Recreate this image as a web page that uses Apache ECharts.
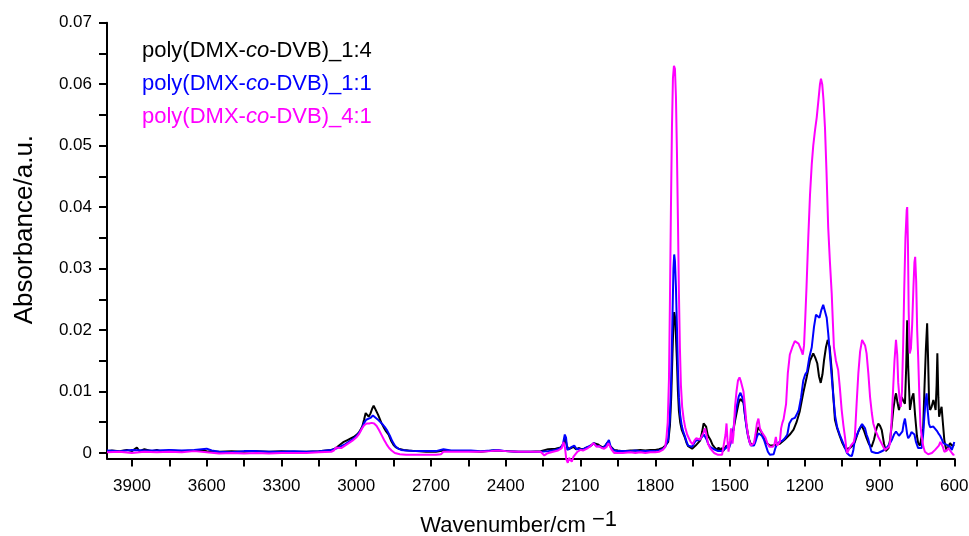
<!DOCTYPE html>
<html>
<head>
<meta charset="utf-8">
<script src="https://cdn.jsdelivr.net/npm/echarts@6/dist/echarts.min.js"></script>
<style>html,body{margin:0;padding:0;background:#fff;}#chart{width:969px;height:536px;}</style>
</head>
<body>
<div id="chart"></div>
<script>
// ---- data: [wavenumber (cm-1), absorbance (a.u.)] ----
const seriesNames = ['poly(DMX-co-DVB)_1:4', 'poly(DMX-co-DVB)_1:1', 'poly(DMX-co-DVB)_4:1'];
const seriesColors = ['#000000', '#0000ff', '#ff00ff'];
const xTickLabels = [600, 900, 1200, 1500, 1800, 2100, 2400, 2700, 3000, 3300, 3600, 3900];
const xTicks = [600,750,900,1050,1200,1350,1500,1650,1800,1950,2100,2250,2400,2550,2700,2850,3000,3150,3300,3450,3600,3750,3900];
const yTickLabels = [0, 0.01, 0.02, 0.03, 0.04, 0.05, 0.06, 0.07];
const yTicks = [0,0.005,0.01,0.015,0.02,0.025,0.03,0.035,0.04,0.045,0.05,0.055,0.06,0.065,0.07];

const black = [
[4000,0.0003],[3980,0.0004],[3950,0.0003],[3920,0.0005],[3900,0.0003],[3880,0.0009],[3870,0.0003],[3850,0.0006],[3820,0.0003],[3800,0.0005],[3780,0.0002],[3750,0.0004],[3700,0.0003],[3650,0.0004],[3620,0.0005],[3600,0.0003],[3550,0.0002],[3500,0.0003],[3450,0.0002],[3400,0.0003],[3350,0.0002],[3300,0.0003],[3250,0.0002],[3200,0.0002],[3150,0.0003],[3100,0.0005],
[3090,0.0006],[3075,0.0010],[3060,0.0015],[3050,0.0018],[3035,0.0021],[3020,0.0024],[3010,0.0026],[3000,0.0029],[2990,0.0033],[2982,0.0038],[2975,0.0044],[2968,0.0055],[2962,0.0065],[2955,0.0062],[2950,0.0059],[2943,0.0064],[2936,0.0072],[2930,0.0077],[2922,0.0074],[2912,0.0062],[2905,0.0055],[2899,0.0049],[2890,0.0042],[2880,0.0035],[2870,0.0030],[2860,0.0020],[2850,0.0013],[2840,0.0009],[2830,0.0007],[2810,0.0005],[2790,0.0004],[2760,0.0003],[2720,0.0002],[2680,0.0002],
[2650,0.0004],[2600,0.0003],[2550,0.0003],[2500,0.0002],[2450,0.0004],[2400,0.0003],[2350,0.0002],[2300,0.0002],[2260,0.0003],[2230,0.0006],[2200,0.0007],[2180,0.0009],[2168,0.0014],[2161,0.0024],[2155,0.0012],[2148,0.0006],[2138,0.0008],[2128,0.0010],[2118,0.0006],[2105,0.0008],[2095,0.0006],[2085,0.0007],[2075,0.0009],[2065,0.0010],[2055,0.0013],[2046,0.0016],[2038,0.0013],[2030,0.0014],[2020,0.0011],[2010,0.0009],[2000,0.0012],[1992,0.0017],[1986,0.0020],[1978,0.0010],[1965,0.0005],[1950,0.0004],[1930,0.0003],[1900,0.0004],[1880,0.0004],[1860,0.0005],[1840,0.0004],[1820,0.0005],[1800,0.0005],[1785,0.0006],[1770,0.0008],[1760,0.0012],
[1755,0.0010],[1748,0.0018],[1741,0.0045],[1736,0.0090],[1731,0.0160],[1727,0.0215],[1724,0.0229],[1721,0.0222],[1717,0.0190],[1713,0.0150],[1709,0.0100],[1705,0.0068],[1700,0.0050],[1694,0.0038],[1688,0.0032],[1681,0.0025],[1674,0.0016],[1668,0.0011],[1660,0.0008],[1652,0.0007],[1645,0.0009],[1638,0.0012],[1630,0.0014],[1620,0.0020],[1612,0.0034],[1606,0.0048],[1601,0.0051],[1596,0.0043],[1590,0.0030],[1584,0.0025],[1578,0.0021],[1570,0.0013],[1562,0.0009],[1556,0.0012],[1551,0.0005],[1546,0.0009],[1540,0.0004],[1534,0.0008],[1528,0.0003],[1522,0.0005],[1516,0.0011],[1510,0.0014],[1504,0.0013],[1498,0.0018],[1492,0.0030],[1486,0.0038],[1480,0.0052],[1472,0.0068],[1465,0.0082],[1458,0.0088],[1452,0.0090],[1446,0.0082],[1440,0.0062],[1434,0.0045],[1428,0.0030],[1422,0.0020],[1416,0.0014],[1410,0.0012],[1404,0.0014],[1398,0.0022],[1392,0.0034],[1386,0.0042],[1380,0.0038],[1374,0.0034],[1366,0.0026],[1358,0.0018],[1350,0.0015],[1340,0.0012],[1330,0.0012],[1320,0.0013],[1310,0.0014],[1300,0.0015],[1280,0.0022],[1260,0.0030],[1245,0.0038],[1233,0.0050],[1220,0.0068],[1206,0.0098],[1192,0.0124],[1179,0.0150],[1166,0.0162],[1158,0.0155],[1150,0.0146],[1143,0.0125],[1136,0.0114],[1129,0.0128],[1123,0.0150],[1115,0.0172],[1108,0.0184],[1100,0.0172],[1092,0.0135],[1085,0.0090],[1079,0.0054],[1070,0.0040],[1059,0.0027],[1049,0.0016],[1039,0.0008],[1028,0.0007],[1019,0.0008],[1008,0.0012],
[999,0.0018],[985,0.0035],[972,0.0045],[962,0.0036],[952,0.0024],[942,0.0014],[932,0.0010],[922,0.0022],[912,0.0040],[905,0.0048],[898,0.0044],[891,0.0037],[882,0.0015],[875,0.0003],[871,0.0001],[864,0.0008],
[858,0.0021],[851,0.0045],[845,0.0070],[838,0.0090],[834,0.0097],[828,0.0082],[822,0.0070],[816,0.0082],[811,0.0091],[805,0.0085],[798,0.0080],[793,0.0140],[789,0.0216],[785,0.0140],[778,0.0070],[770,0.0090],[764,0.0097],[757,0.0060],[750,0.0028],[745,0.0016],[738,0.0012],[731,0.0010],[725,0.0040],[720,0.0102],[714,0.0170],[709,0.0211],[705,0.0150],[701,0.0080],[697,0.0070],[691,0.0075],[684,0.0086],[679,0.0078],[675,0.0070],[671,0.0110],[668,0.0162],[664,0.0090],[661,0.0059],[656,0.0068],[651,0.0075],[646,0.0050],[640,0.0021],[635,0.0010],[631,0.0005],[624,0.0010],[617,0.0016],[610,0.0012],[604,0.0011],[600,0.0013]
];

const blue = [
[4000,0.0004],[3950,0.0003],[3900,0.0005],[3850,0.0004],[3800,0.0004],[3750,0.0005],[3700,0.0004],[3650,0.0005],[3600,0.0007],[3580,0.0004],[3550,0.0002],[3500,0.0001],[3450,0.0003],[3400,0.0003],[3350,0.0002],[3300,0.0002],[3250,0.0003],[3200,0.0002],[3150,0.0003],[3100,0.0005],
[3090,0.0006],[3075,0.0008],[3060,0.0011],[3045,0.0014],[3030,0.0018],[3015,0.0022],[3000,0.0027],[2988,0.0033],[2978,0.0040],[2968,0.0049],[2960,0.0054],[2952,0.0054],[2943,0.0057],[2933,0.0061],[2925,0.0060],[2915,0.0055],[2905,0.0051],[2895,0.0047],[2885,0.0042],[2875,0.0036],[2865,0.0028],[2855,0.0019],[2845,0.0012],[2835,0.0008],[2820,0.0005],[2800,0.0004],[2760,0.0003],[2720,0.0003],[2680,0.0003],
[2650,0.0006],[2620,0.0004],[2580,0.0004],[2540,0.0004],[2500,0.0003],[2460,0.0004],[2430,0.0005],[2400,0.0003],[2350,0.0002],[2300,0.0002],[2260,0.0002],[2230,0.0003],[2200,0.0005],[2180,0.0008],[2170,0.0015],[2163,0.0030],[2158,0.0025],[2153,0.0005],[2145,0.0004],[2135,0.0010],[2125,0.0012],[2115,0.0006],[2105,0.0007],[2095,0.0005],[2085,0.0007],[2075,0.0009],[2065,0.0011],[2055,0.0013],[2046,0.0016],[2038,0.0012],[2030,0.0014],[2020,0.0010],[2010,0.0008],[2000,0.0012],[1992,0.0017],[1986,0.0021],[1978,0.0009],[1965,0.0004],[1950,0.0003],[1930,0.0003],[1900,0.0003],[1880,0.0004],[1860,0.0003],[1840,0.0003],[1820,0.0003],[1800,0.0003],[1785,0.0004],[1770,0.0006],[1760,0.0010],
[1755,0.0012],[1748,0.0022],[1741,0.0060],[1736,0.0120],[1731,0.0220],[1727,0.0300],[1724,0.0323],[1721,0.0312],[1717,0.0270],[1713,0.0205],[1709,0.0135],[1705,0.0090],[1700,0.0062],[1694,0.0045],[1688,0.0035],[1681,0.0027],[1674,0.0018],[1668,0.0012],[1660,0.0010],[1652,0.0010],[1645,0.0012],[1638,0.0020],[1630,0.0022],[1620,0.0022],[1612,0.0025],[1605,0.0030],[1600,0.0028],[1594,0.0022],[1588,0.0015],[1580,0.0010],[1572,0.0008],[1564,0.0006],[1556,0.0005],[1548,0.0003],[1540,0.0002],[1532,0.0003],[1524,0.0002],[1516,0.0008],[1510,0.0012],[1504,0.0008],[1498,0.0015],[1492,0.0027],[1486,0.0040],[1480,0.0060],[1472,0.0078],[1465,0.0092],[1458,0.0098],[1452,0.0096],[1446,0.0085],[1440,0.0062],[1434,0.0042],[1428,0.0028],[1422,0.0018],[1416,0.0012],[1410,0.0010],[1404,0.0012],[1398,0.0018],[1392,0.0026],[1386,0.0032],[1380,0.0030],[1372,0.0028],[1364,0.0022],[1356,0.0012],[1348,0.0002],[1340,-0.0003],[1333,-0.0006],[1325,-0.0002],[1318,0.0008],[1310,0.0016],[1300,0.0018],[1290,0.0020],[1280,0.0024],[1270,0.0030],[1262,0.0048],[1252,0.0055],[1240,0.0057],[1233,0.0062],[1224,0.0070],[1215,0.0090],[1206,0.0118],[1198,0.0128],[1191,0.0132],[1182,0.0155],[1172,0.0172],[1163,0.0205],[1155,0.0225],[1148,0.0222],[1141,0.0220],[1134,0.0232],[1126,0.0241],[1120,0.0238],[1112,0.0220],[1106,0.0195],[1099,0.0160],[1092,0.0124],[1085,0.0090],[1078,0.0060],[1070,0.0042],[1060,0.0030],[1051,0.0021],[1040,0.0010],[1031,0.0000],[1020,-0.0004],[1011,-0.0005],[1005,0.0005],
[999,0.0022],[990,0.0030],[980,0.0040],[970,0.0047],[965,0.0049],[958,0.0040],[952,0.0030],[945,0.0022],[938,0.0010],[932,0.0002],[925,0.0000],[915,0.0000],[905,0.0000],[895,0.0002],[885,0.0004],[878,0.0005],[868,0.0010],
[858,0.0016],[851,0.0021],[842,0.0030],[834,0.0035],[828,0.0033],[822,0.0028],[815,0.0027],[808,0.0035],[803,0.0048],[798,0.0056],[794,0.0045],[789,0.0030],[785,0.0024],[778,0.0028],[772,0.0034],[765,0.0037],[760,0.0030],[754,0.0018],[745,0.0008],[738,0.0006],[731,0.0008],[725,0.0030],[720,0.0060],[715,0.0085],[711,0.0097],[707,0.0070],[702,0.0048],[697,0.0042],[691,0.0045],[684,0.0043],[677,0.0040],[670,0.0036],[664,0.0032],[657,0.0028],[650,0.0022],[644,0.0016],[637,0.0018],[630,0.0013],[624,0.0016],[617,0.0010],[610,0.0005],[604,0.0012],[600,0.0018]
];

const magenta = [
[4000,0.0001],[3950,0.0002],[3900,0.0000],[3850,0.0002],[3800,0.0001],[3750,0.0002],[3700,0.0001],[3650,0.0003],[3600,0.0001],[3550,-0.0001],[3500,0.0000],[3450,-0.0001],[3400,0.0000],[3350,-0.0001],[3300,0.0000],[3250,0.0000],[3200,0.0000],[3150,0.0001],[3100,0.0002],
[3090,0.0004],[3080,0.0009],[3070,0.0008],[3060,0.0008],[3045,0.0012],[3030,0.0016],[3015,0.0020],[3000,0.0025],[2988,0.0031],[2978,0.0039],[2968,0.0045],[2958,0.0048],[2948,0.0048],[2938,0.0049],[2928,0.0048],[2918,0.0044],[2908,0.0037],[2898,0.0029],[2888,0.0021],[2878,0.0014],[2868,0.0008],[2858,0.0004],[2845,0.0000],[2825,-0.0002],[2800,-0.0003],[2760,-0.0003],[2720,-0.0003],[2680,-0.0003],[2660,-0.0002],
[2650,0.0002],[2620,0.0002],[2580,0.0002],[2540,0.0002],[2500,0.0002],[2460,0.0003],[2430,0.0004],[2400,0.0003],[2350,0.0002],[2300,0.0002],[2260,0.0002],[2245,-0.0004],[2235,-0.0001],[2210,0.0002],[2190,0.0004],[2175,0.0008],[2168,0.0018],[2162,0.0008],[2157,-0.0010],[2151,-0.0016],[2146,-0.0008],[2141,-0.0006],[2135,-0.0014],[2128,-0.0006],[2120,-0.0003],[2112,0.0002],[2100,0.0005],[2090,0.0004],[2080,0.0006],[2070,0.0008],[2060,0.0011],[2048,0.0016],[2042,0.0013],[2035,0.0010],[2025,0.0011],[2015,0.0008],[2005,0.0007],[1995,0.0010],[1988,0.0016],[1983,0.0018],[1976,0.0006],[1965,0.0000],[1950,0.0000],[1930,0.0000],[1900,0.0001],[1880,0.0000],[1860,0.0001],[1840,0.0000],[1820,0.0001],[1800,0.0001],[1785,0.0002],[1770,0.0005],[1760,0.0010],
[1755,0.0025],[1750,0.0050],[1745,0.0120],[1741,0.0250],[1737,0.0400],[1733,0.0530],[1729,0.0610],[1725,0.0630],[1721,0.0625],[1717,0.0580],[1713,0.0490],[1709,0.0380],[1705,0.0260],[1701,0.0170],[1697,0.0110],[1692,0.0075],[1686,0.0055],[1680,0.0042],[1672,0.0030],[1665,0.0024],[1658,0.0018],[1650,0.0014],[1643,0.0020],[1636,0.0024],[1628,0.0022],[1620,0.0022],[1612,0.0025],[1605,0.0034],[1600,0.0040],[1595,0.0030],[1588,0.0015],[1580,0.0008],[1572,0.0004],[1564,0.0000],[1556,-0.0003],[1548,-0.0003],[1540,-0.0002],[1532,-0.0003],[1524,0.0000],[1518,0.0030],[1514,0.0048],[1510,0.0020],[1506,0.0002],[1500,0.0020],[1496,0.0040],[1490,0.0015],[1486,0.0030],[1480,0.0075],[1474,0.0100],[1468,0.0118],[1462,0.0123],[1456,0.0116],[1451,0.0113],[1446,0.0100],[1440,0.0075],[1434,0.0048],[1428,0.0030],[1422,0.0018],[1416,0.0012],[1410,0.0012],[1404,0.0016],[1398,0.0030],[1392,0.0048],[1386,0.0056],[1380,0.0040],[1374,0.0035],[1366,0.0032],[1358,0.0025],[1350,0.0016],[1342,0.0010],[1335,0.0008],[1328,0.0010],[1322,0.0014],[1316,0.0026],[1311,0.0012],[1305,0.0010],[1300,0.0018],[1295,0.0040],[1290,0.0049],[1285,0.0055],[1275,0.0080],[1268,0.0130],[1260,0.0160],[1250,0.0172],[1240,0.0182],[1233,0.0184],[1225,0.0178],[1215,0.0168],[1208,0.0160],[1203,0.0175],[1198,0.0220],[1193,0.0270],[1186,0.0350],[1179,0.0420],[1172,0.0470],[1166,0.0500],[1159,0.0525],[1152,0.0546],[1145,0.0575],[1139,0.0600],[1135,0.0609],[1130,0.0600],[1125,0.0575],[1119,0.0530],[1113,0.0460],[1106,0.0367],[1099,0.0310],[1092,0.0260],[1087,0.0210],[1083,0.0172],[1075,0.0150],[1066,0.0135],[1059,0.0105],[1052,0.0070],[1045,0.0045],[1039,0.0027],[1034,0.0010],[1030,0.0000],[1022,0.0002],[1015,0.0012],[1008,0.0010],[1003,0.0018],
[999,0.0027],[992,0.0080],[985,0.0130],[978,0.0165],[970,0.0184],[965,0.0184],[958,0.0175],[952,0.0162],[945,0.0130],[938,0.0091],[931,0.0065],[925,0.0048],[915,0.0035],[905,0.0026],[895,0.0018],[885,0.0010],[878,0.0005],[870,0.0006],[862,0.0010],
[858,0.0016],[852,0.0050],[846,0.0100],[840,0.0150],[834,0.0184],[829,0.0160],[825,0.0114],[820,0.0090],[815,0.0075],[810,0.0100],[805,0.0180],[801,0.0265],[796,0.0350],[791,0.0395],[789,0.0400],[786,0.0340],[783,0.0230],[779,0.0162],[774,0.0170],[769,0.0210],[764,0.0270],[760,0.0310],[757,0.0319],[753,0.0280],[749,0.0200],[745,0.0156],[740,0.0090],[736,0.0045],[731,0.0027],[724,0.0010],[718,0.0002],[712,-0.0001],[705,-0.0002],[698,-0.0003],[690,0.0000],[683,0.0003],[677,0.0005],[670,0.0008],[662,0.0012],[656,0.0018],[652,0.0018],[646,0.0010],[640,0.0002],[636,0.0000],[630,0.0004],[624,0.0008],[617,0.0004],[610,0.0001],[604,-0.0003],[600,-0.0002]
];

const seriesData = [black, blue, magenta];

const FONT = "'Liberation Sans', Arial, Helvetica, sans-serif";
const chart = echarts.init(document.getElementById('chart'), null, {renderer: 'canvas'});

const legendLines = seriesNames.map(function (name, i) {
  const parts = name.split('-co-');
  return {
    type: 'text',
    left: 142,
    top: 40 + i * 33,
    style: {
      text: '{n|' + parts[0] + '-}{i|co}{n|-' + parts[1] + '}',
      fill: seriesColors[i],
      rich: {
        n: {fontFamily: FONT, fontSize: 22, fill: seriesColors[i]},
        i: {fontFamily: FONT, fontSize: 22, fontStyle: 'italic', fill: seriesColors[i]}
      }
    }
  };
});

chart.setOption({
  animation: false,
  backgroundColor: '#ffffff',
  grid: {left: 107, right: 14.7, top: 22.7, bottom: 77.5, containLabel: false, outerBoundsMode: 'none'},
  xAxis: {
    type: 'value',
    inverse: true,
    min: 600,
    max: 4000,
    name: '{n|Wavenumber/cm }{s|\u22121}',
    nameLocation: 'middle',
    nameGap: 50,
    nameTextStyle: {
      padding: [0, 24, 0, 0],
      rich: {
        n: {fontFamily: FONT, fontSize: 22, color: '#000'},
        s: {fontFamily: FONT, fontSize: 22, color: '#000', padding: [0, 0, 12, 0]}
      }
    },
    axisLine: {show: true, onZero: false, lineStyle: {color: '#000', width: 2}},
    axisTick: {show: true, inside: false, length: 8, lineStyle: {color: '#000', width: 2}, customValues: xTicks},
    axisLabel: {
      show: true, margin: 19, color: '#000', fontSize: 17, fontFamily: FONT, customValues: xTickLabels,
      formatter: function (v) { return String(Math.round(v)); }
    },
    splitLine: {show: false}
  },
  yAxis: {
    type: 'value',
    min: -0.0009,
    max: 0.07,
    name: 'Absorbance/a.u.',
    nameLocation: 'middle',
    nameGap: 69,
    nameTextStyle: {fontFamily: FONT, fontSize: 26, color: '#000', padding: [0, 0, 0, 22]},
    axisLine: {show: true, onZero: false, lineStyle: {color: '#000', width: 2}},
    axisTick: {show: true, inside: false, length: 8, lineStyle: {color: '#000', width: 2}, customValues: yTicks},
    axisLabel: {
      show: true, margin: 15, color: '#000', fontSize: 17, fontFamily: FONT, customValues: yTickLabels,
      formatter: function (v) { return Math.abs(v) < 1e-9 ? '0' : v.toFixed(2); }
    },
    splitLine: {show: false}
  },
  graphic: legendLines,
  series: seriesData.map(function (d, i) {
    return {
      name: seriesNames[i],
      type: 'line',
      data: d,
      showSymbol: false,
      symbol: 'none',
      clip: false,
      sampling: 'none',
      lineStyle: {color: seriesColors[i], width: 2},
      itemStyle: {color: seriesColors[i]},
      z: 2 + i
    };
  })
});
</script>
</body>
</html>
